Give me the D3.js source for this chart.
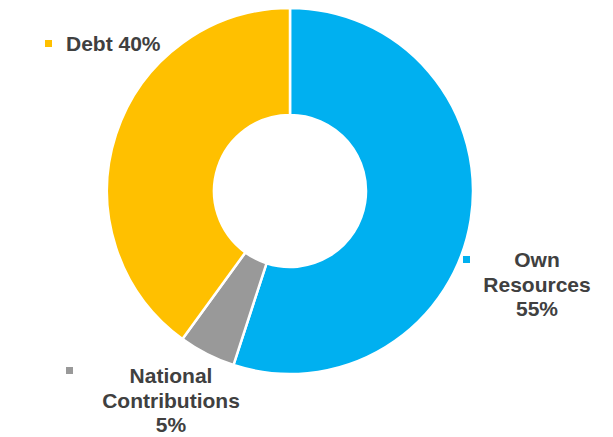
<!DOCTYPE html>
<html>
<head>
<meta charset="utf-8">
<script src="https://cdn.jsdelivr.net/npm/d3@7"></script>
<style>
  html, body { margin: 0; padding: 0; background: #fff; }
  svg { display: block; }
</style>
</head>
<body>
<svg id="chart" width="613" height="437"></svg>
<script>
// Funding sources, clockwise from 12 o'clock
const categories = ["Own Resources", "National Contributions", "Debt"];
const values = [55, 5, 40];
const colors = ["#00B0F0", "#999999", "#FFC000"];
// Label text lines per category
const labelLines = [
  ["Own", "Resources", "55%"],
  ["National", "Contributions", "5%"],
  ["Debt 40%"]
];

const svg = d3.select("#chart");
const cx = 290, cy = 191, outerR = 183, innerR = 76;

const pie = d3.pie().sort(null).value(d => d.value);
const arc = d3.arc().innerRadius(innerR).outerRadius(outerR);

const data = categories.map((c, i) => ({ name: c, value: values[i], color: colors[i] }));

const g = svg.append("g").attr("transform", `translate(${cx},${cy})`);
g.selectAll("path")
  .data(pie(data))
  .join("path")
  .attr("d", arc)
  .attr("fill", d => d.data.color)
  .attr("stroke", "#fff")
  .attr("stroke-width", 2.5)
  .attr("stroke-linejoin", "miter");

// Labels: marker square + bold text block
const labelLayout = [
  { marker: [463, 256], x: 537, y: 267, anchor: "middle" },
  { marker: [66, 367], x: 171, y: 383, anchor: "middle" },
  { marker: [45, 40], x: 66, y: 51, anchor: "start" }
];

const labels = svg.append("g");
data.forEach((d, i) => {
  const L = labelLayout[i];
  labels.append("rect")
    .attr("x", L.marker[0]).attr("y", L.marker[1])
    .attr("width", 7).attr("height", 7)
    .attr("fill", d.color);
  const t = labels.append("text")
    .attr("x", L.x).attr("y", L.y)
    .attr("text-anchor", L.anchor)
    .attr("font-family", "Liberation Sans, Arial, sans-serif")
    .attr("font-weight", "bold")
    .attr("font-size", 21)
    .attr("fill", "#404040");
  labelLines[i].forEach((line, j) => {
    t.append("tspan").attr("x", L.x).attr("dy", j === 0 ? 0 : 24.5).text(line);
  });
});
</script>
</body>
</html>
